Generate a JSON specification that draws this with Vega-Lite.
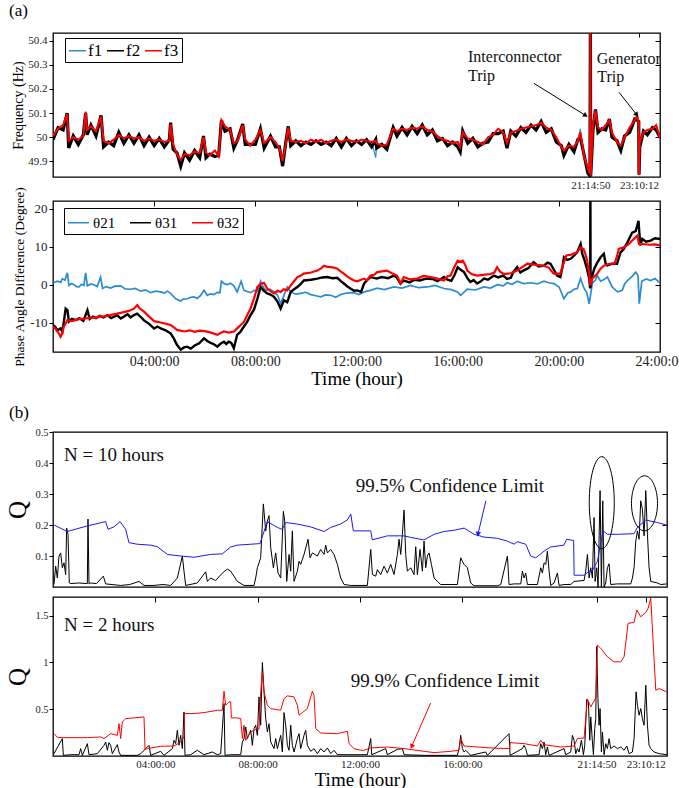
{
"$schema":"https://vega.github.io/schema/vega-lite/v6.json",
"background":"white",
"padding":{"left":5,"top":0,"right":0,"bottom":0},
"config":{
"font":"Liberation Serif",
"view":{"stroke":"#000","strokeWidth":1.3},
"axis":{"domain":false,"grid":false,"labelFont":"Liberation Serif","titleFont":"Liberation Serif","labelColor":"#222","titleColor":"#000","tickColor":"#000","titleFontWeight":"normal","labelFlush":false,"labelOverlap":false},
"legend":{"labelFont":"Liberation Serif"},
"title":{"font":"Liberation Serif","fontWeight":"normal","color":"#000"},
"text":{"font":"Liberation Serif"}
},
"datasets":{
"p1":[
{"t":0,"a":49.995,"b":49.99,"c":50.005},{"t":0.2,"a":50.03,"b":50.04,"c":50.035},{"t":0.4,"a":50.05,"b":50.03,"c":50.05},{"t":0.56,"a":50.095,"b":50.1,"c":50.095},{"t":0.62,"a":49.985,"b":49.955,"c":49.985},{"t":0.8,"a":50,"b":50.005,"c":50},{"t":1,"a":49.99,"b":49.97,"c":49.99},{"t":1.2,"a":50.005,"b":50.01,"c":50.005},{"t":1.29,"a":50.105,"b":50.1,"c":50.105},{"t":1.35,"a":50.03,"b":50.01,"c":50.03},{"t":1.5,"a":50.045,"b":50.05,"c":50.045},{"t":1.7,"a":50.025,"b":50.005,"c":50.025},{"t":1.9,"a":50.085,"b":50.09,"c":50.085},{"t":2,"a":49.985,"b":49.96,"c":49.985},{"t":2.2,"a":49.975,"b":49.98,"c":49.975},{"t":2.4,"a":49.99,"b":49.965,"c":49.99},{"t":2.6,"a":50.01,"b":50.02,"c":50.01},{"t":2.8,"a":49.995,"b":49.975,"c":49.995},{"t":3,"a":50.005,"b":50.01,"c":50.005},{"t":3.2,"a":49.995,"b":49.975,"c":49.995},{"t":3.4,"a":50,"b":50.01,"c":50},{"t":3.6,"a":49.985,"b":49.965,"c":49.985},{"t":3.8,"a":49.995,"b":50,"c":49.995},{"t":4,"a":49.985,"b":49.965,"c":49.985},{"t":4.2,"a":49.99,"b":49.995,"c":49.99},{"t":4.4,"a":49.98,"b":49.96,"c":49.98},{"t":4.6,"a":49.985,"b":49.99,"c":49.985},{"t":4.65,"a":50.055,"b":50.06,"c":50.055},{"t":4.75,"a":49.97,"b":49.95,"c":49.97},{"t":4.9,"a":49.93,"b":49.935,"c":49.93},{"t":5.05,"a":49.905,"b":49.88,"c":49.905},{"t":5.2,"a":49.93,"b":49.935,"c":49.93},{"t":5.4,"a":49.925,"b":49.905,"c":49.925},{"t":5.6,"a":49.94,"b":49.945,"c":49.94},{"t":5.8,"a":49.935,"b":49.915,"c":49.935},{"t":5.95,"a":50,"b":50.005,"c":50},{"t":6.05,"a":49.935,"b":49.915,"c":49.935},{"t":6.2,"a":49.925,"b":49.93,"c":49.925},{"t":6.4,"a":49.945,"b":49.92,"c":49.945},{"t":6.55,"a":49.92,"b":49.925,"c":49.92},{"t":6.66,"a":50.07,"b":50.07,"c":50.07},{"t":6.8,"a":50.045,"b":50.025,"c":50.045},{"t":7,"a":50.03,"b":50.035,"c":50.03},{"t":7.15,"a":49.975,"b":49.955,"c":49.975},{"t":7.3,"a":49.985,"b":49.99,"c":49.985},{"t":7.5,"a":50.05,"b":50.055,"c":50.05},{"t":7.6,"a":49.99,"b":49.97,"c":49.99},{"t":7.8,"a":49.965,"b":49.97,"c":49.965},{"t":8,"a":49.99,"b":49.97,"c":49.99},{"t":8.2,"a":50.03,"b":50.035,"c":50.03},{"t":8.35,"a":49.975,"b":49.955,"c":49.975},{"t":8.6,"a":50,"b":50.005,"c":50},{"t":8.8,"a":49.98,"b":49.96,"c":49.98},{"t":8.95,"a":49.955,"b":49.96,"c":49.955},{"t":9.08,"a":49.9,"b":49.88,"c":49.9},{"t":9.2,"a":49.97,"b":49.975,"c":49.97},{"t":9.3,"a":50.04,"b":50.045,"c":50.04},{"t":9.4,"a":49.985,"b":49.965,"c":49.985},{"t":9.6,"a":49.98,"b":49.985,"c":49.98},{"t":9.8,"a":49.985,"b":49.965,"c":49.985},{"t":10,"a":49.975,"b":49.98,"c":49.975},{"t":10.2,"a":49.99,"b":49.97,"c":49.99},{"t":10.4,"a":49.98,"b":49.985,"c":49.98},{"t":10.6,"a":49.99,"b":49.97,"c":49.99},{"t":10.8,"a":49.975,"b":49.98,"c":49.975},{"t":11,"a":49.985,"b":49.965,"c":49.985},{"t":11.2,"a":49.99,"b":49.995,"c":49.99},{"t":11.4,"a":49.98,"b":49.96,"c":49.98},{"t":11.6,"a":49.99,"b":49.995,"c":49.99},{"t":11.8,"a":49.985,"b":49.965,"c":49.985},{"t":12,"a":49.98,"b":49.985,"c":49.98},{"t":12.2,"a":49.99,"b":49.97,"c":49.99},{"t":12.4,"a":49.985,"b":49.99,"c":49.985},{"t":12.6,"a":49.98,"b":49.96,"c":49.98},{"t":12.76,"a":49.915,"b":49.99,"c":49.985},{"t":12.8,"a":49.975,"b":49.955,"c":49.975},{"t":13,"a":49.965,"b":49.97,"c":49.965},{"t":13.2,"a":49.97,"b":49.95,"c":49.97},{"t":13.45,"a":50.035,"b":50.04,"c":50.035},{"t":13.6,"a":50.025,"b":50.005,"c":50.025},{"t":13.8,"a":50.035,"b":50.04,"c":50.035},{"t":14,"a":50.03,"b":50.01,"c":50.03},{"t":14.2,"a":50.04,"b":50.045,"c":50.04},{"t":14.4,"a":50.035,"b":50.015,"c":50.035},{"t":14.6,"a":50.045,"b":50.05,"c":50.045},{"t":14.8,"a":50.03,"b":50.01,"c":50.03},{"t":15,"a":50.025,"b":50.03,"c":50.025},{"t":15.2,"a":50.005,"b":49.985,"c":50.005},{"t":15.4,"a":49.99,"b":49.995,"c":49.99},{"t":15.6,"a":49.985,"b":49.965,"c":49.985},{"t":15.8,"a":49.975,"b":49.98,"c":49.975},{"t":16,"a":49.98,"b":49.96,"c":49.98},{"t":16.1,"a":49.96,"b":49.94,"c":49.96},{"t":16.2,"a":50.02,"b":50.025,"c":50.02},{"t":16.4,"a":49.995,"b":49.975,"c":49.995},{"t":16.6,"a":49.99,"b":49.995,"c":49.99},{"t":16.8,"a":49.98,"b":49.96,"c":49.98},{"t":17,"a":49.97,"b":49.975,"c":49.97},{"t":17.2,"a":50,"b":49.98,"c":50},{"t":17.4,"a":50.01,"b":50.015,"c":50.01},{"t":17.6,"a":50.035,"b":50.015,"c":50.035},{"t":17.8,"a":50.02,"b":50.025,"c":50.02},{"t":17.95,"a":49.975,"b":49.955,"c":49.975},{"t":18.1,"a":50.02,"b":50.025,"c":50.02},{"t":18.3,"a":50.025,"b":50.005,"c":50.025},{"t":18.5,"a":50.035,"b":50.04,"c":50.035},{"t":18.7,"a":50.04,"b":50.02,"c":50.04},{"t":18.9,"a":50.045,"b":50.05,"c":50.045},{"t":19.1,"a":50.05,"b":50.03,"c":50.05},{"t":19.3,"a":50.06,"b":50.065,"c":50.06},{"t":19.5,"a":50.04,"b":50.02,"c":50.04},{"t":19.7,"a":50.03,"b":50.035,"c":50.03},{"t":19.9,"a":50,"b":49.98,"c":50},{"t":20.1,"a":49.96,"b":49.965,"c":49.96},{"t":20.2,"a":49.945,"b":49.925,"c":49.945},{"t":20.4,"a":49.965,"b":49.97,"c":49.965},{"t":20.6,"a":49.96,"b":49.94,"c":49.96},{"t":20.75,"a":49.985,"b":49.99,"c":49.985},{"t":20.85,"a":50.035,"b":50,"c":50.02},{"t":21,"a":49.92,"b":49.925,"c":49.92},{"t":21.15,"a":49.87,"b":49.85,"c":49.87},{"t":21.23,"a":49.85,"b":49.84,"c":49.85},{"t":21.247,"a":50.44,"b":50.44,"c":50.44},{"t":21.26,"a":49.84,"b":49.84,"c":49.84},{"t":21.35,"a":50.05,"b":50.03,"c":50.05},{"t":21.45,"a":50.11,"b":50.115,"c":50.11},{"t":21.55,"a":50.04,"b":50.02,"c":50.04},{"t":21.7,"a":50.03,"b":50.035,"c":50.03},{"t":21.85,"a":50.05,"b":50.03,"c":50.05},{"t":22,"a":50.07,"b":50.075,"c":50.07},{"t":22.1,"a":50.02,"b":50,"c":50.02},{"t":22.3,"a":49.98,"b":49.985,"c":49.98},{"t":22.45,"a":49.965,"b":49.945,"c":49.965},{"t":22.6,"a":50,"b":50.005,"c":50},{"t":22.8,"a":50.04,"b":50.02,"c":50.04},{"t":23,"a":50.07,"b":50.075,"c":50.07},{"t":23.1,"a":50.09,"b":50.07,"c":50.09},{"t":23.16,"a":50.06,"b":50.065,"c":50.06},{"t":23.17,"a":49.845,"b":49.845,"c":49.845},{"t":23.2,"a":49.98,"b":49.96,"c":49.98},{"t":23.35,"a":50.02,"b":50.025,"c":50.02},{"t":23.5,"a":50.03,"b":50.01,"c":50.03},{"t":23.7,"a":50.035,"b":50.04,"c":50.035},{"t":23.85,"a":50.05,"b":50.03,"c":50.05},{"t":24,"a":49.995,"b":50,"c":49.995}
],
"p2a":[
{"t":0.01,"v":0.5},{"t":0.17,"v":0.9},{"t":0.3,"v":0.6},{"t":0.37,"v":1.6},{"t":0.47,"v":1.2},{"t":0.57,"v":3.1},{"t":0.63,"v":-0.2},{"t":0.73,"v":0.3},{"t":0.83,"v":0},{"t":0.93,"v":-0.5},{"t":1.03,"v":-0.6},{"t":1.13,"v":0.1},{"t":1.22,"v":-0.2},{"t":1.29,"v":3.1},{"t":1.36,"v":-0.3},{"t":1.5,"v":0.2},{"t":1.62,"v":0},{"t":1.75,"v":-0.5},{"t":1.88,"v":2},{"t":1.96,"v":-1},{"t":2.1,"v":-0.5},{"t":2.28,"v":-0.9},{"t":2.45,"v":-0.4},{"t":2.68,"v":-0.3},{"t":2.85,"v":-1.1},{"t":3.07,"v":-1.2},{"t":3.25,"v":-1},{"t":3.47,"v":-1.7},{"t":3.65,"v":-1.4},{"t":3.86,"v":-2.1},{"t":4.05,"v":-1.7},{"t":4.26,"v":-1.9},{"t":4.4,"v":-2.2},{"t":4.52,"v":-1.7},{"t":4.65,"v":-2.3},{"t":4.85,"v":-3.7},{"t":5.05,"v":-4.3},{"t":5.15,"v":-3.8},{"t":5.31,"v":-3.7},{"t":5.45,"v":-3.3},{"t":5.58,"v":-3.2},{"t":5.7,"v":-3.6},{"t":5.84,"v":-2.8},{"t":5.97,"v":-1.5},{"t":6.1,"v":-2.8},{"t":6.23,"v":-2.4},{"t":6.36,"v":-2.6},{"t":6.5,"v":-2},{"t":6.6,"v":-2.1},{"t":6.66,"v":0.9},{"t":6.78,"v":0.2},{"t":6.89,"v":0},{"t":7.02,"v":0.4},{"t":7.15,"v":-0.3},{"t":7.28,"v":-1.9},{"t":7.44,"v":0.9},{"t":7.55,"v":-1.5},{"t":7.68,"v":-1.8},{"t":7.81,"v":-2.1},{"t":7.95,"v":-1.5},{"t":8.08,"v":-1.7},{"t":8.21,"v":0.9},{"t":8.3,"v":-0.5},{"t":8.41,"v":-1.5},{"t":8.58,"v":-1.2},{"t":8.74,"v":-1.9},{"t":8.88,"v":-2.8},{"t":9,"v":-5},{"t":9.13,"v":-2.8},{"t":9.26,"v":-0.6},{"t":9.4,"v":-1.9},{"t":9.6,"v":-2.5},{"t":9.79,"v":-2.3},{"t":10,"v":-2},{"t":10.19,"v":-2.6},{"t":10.4,"v":-2.9},{"t":10.58,"v":-3.2},{"t":10.78,"v":-2.7},{"t":10.98,"v":-2.8},{"t":11.18,"v":-3.3},{"t":11.37,"v":-2.6},{"t":11.6,"v":-2.2},{"t":11.9,"v":-2.1},{"t":12.1,"v":-2.6},{"t":12.3,"v":-1.9},{"t":12.55,"v":-1.5},{"t":12.82,"v":-0.9},{"t":13.1,"v":-1.3},{"t":13.48,"v":-0.6},{"t":13.8,"v":-0.9},{"t":14.14,"v":-0.2},{"t":14.45,"v":-0.8},{"t":14.8,"v":-0.6},{"t":15.1,"v":-0.2},{"t":15.46,"v":-1},{"t":15.75,"v":-1.3},{"t":15.99,"v":-1.9},{"t":16.12,"v":-2.8},{"t":16.38,"v":-1.2},{"t":16.7,"v":-1.4},{"t":17.04,"v":-0.6},{"t":17.3,"v":-0.9},{"t":17.57,"v":0},{"t":17.8,"v":-0.3},{"t":17.96,"v":0.5},{"t":18.15,"v":0.1},{"t":18.36,"v":0.9},{"t":18.6,"v":0.3},{"t":18.89,"v":0.5},{"t":19.15,"v":0.2},{"t":19.41,"v":0.9},{"t":19.6,"v":0.5},{"t":19.81,"v":0.3},{"t":20.01,"v":-0.6},{"t":20.2,"v":-3.7},{"t":20.35,"v":-2.2},{"t":20.47,"v":-1.9},{"t":20.6,"v":-1.2},{"t":20.73,"v":-1},{"t":20.86,"v":1.6},{"t":21,"v":-1},{"t":21.1,"v":-2},{"t":21.2,"v":-5},{"t":21.33,"v":0.5},{"t":21.45,"v":1.2},{"t":21.52,"v":2.4},{"t":21.65,"v":0.9},{"t":21.8,"v":1.4},{"t":21.92,"v":2},{"t":22.11,"v":-0.6},{"t":22.2,"v":-1.2},{"t":22.32,"v":-1.9},{"t":22.51,"v":-1.5},{"t":22.6,"v":0.2},{"t":22.71,"v":1.1},{"t":22.9,"v":2.2},{"t":23.04,"v":3.3},{"t":23.13,"v":2.4},{"t":23.18,"v":-5},{"t":23.28,"v":0.9},{"t":23.45,"v":1.5},{"t":23.63,"v":1.1},{"t":23.8,"v":1.6},{"t":24,"v":0.5}
],
"p2b":[
{"t":0.01,"v":-10.6},{"t":0.1,"v":-11.2},{"t":0.17,"v":-12},{"t":0.3,"v":-11.5},{"t":0.37,"v":-12.3},{"t":0.43,"v":-9.7},{"t":0.5,"v":-6.3},{"t":0.57,"v":-6.7},{"t":0.63,"v":-9.7},{"t":0.75,"v":-9},{"t":0.9,"v":-9.3},{"t":1.05,"v":-8.8},{"t":1.2,"v":-9.5},{"t":1.36,"v":-6.7},{"t":1.45,"v":-9},{"t":1.58,"v":-8.4},{"t":1.7,"v":-8.8},{"t":1.85,"v":-8.2},{"t":2,"v":-8.6},{"t":2.15,"v":-8},{"t":2.3,"v":-8.8},{"t":2.54,"v":-8},{"t":2.68,"v":-8.9},{"t":2.8,"v":-8.4},{"t":2.95,"v":-7.8},{"t":3.07,"v":-8.6},{"t":3.2,"v":-8},{"t":3.33,"v":-7.6},{"t":3.47,"v":-8.5},{"t":3.6,"v":-9.4},{"t":3.8,"v":-10.3},{"t":4,"v":-11.5},{"t":4.13,"v":-11},{"t":4.26,"v":-11.5},{"t":4.45,"v":-12},{"t":4.65,"v":-12.8},{"t":4.78,"v":-14.2},{"t":4.9,"v":-15.8},{"t":5.05,"v":-17.1},{"t":5.18,"v":-16.5},{"t":5.3,"v":-16.3},{"t":5.45,"v":-16.8},{"t":5.6,"v":-16},{"t":5.78,"v":-15.4},{"t":5.97,"v":-14.1},{"t":6.1,"v":-14.8},{"t":6.2,"v":-15.2},{"t":6.35,"v":-15.6},{"t":6.5,"v":-16.3},{"t":6.62,"v":-15.5},{"t":6.76,"v":-15},{"t":6.85,"v":-15.6},{"t":6.95,"v":-15},{"t":7.05,"v":-15.3},{"t":7.15,"v":-16.7},{"t":7.28,"v":-13.2},{"t":7.4,"v":-12.5},{"t":7.55,"v":-11},{"t":7.68,"v":-9.7},{"t":7.81,"v":-8},{"t":7.95,"v":-6.5},{"t":8.08,"v":-3.7},{"t":8.21,"v":-0.6},{"t":8.34,"v":-1.6},{"t":8.47,"v":-2.3},{"t":8.6,"v":-2.6},{"t":8.74,"v":-3.2},{"t":8.88,"v":-4.5},{"t":9,"v":-6.3},{"t":9.13,"v":-4.1},{"t":9.26,"v":-4.6},{"t":9.4,"v":-1.9},{"t":9.53,"v":-1.2},{"t":9.66,"v":-0.6},{"t":9.8,"v":0.2},{"t":9.92,"v":1.1},{"t":10.2,"v":1.3},{"t":10.45,"v":1.6},{"t":10.65,"v":1.9},{"t":10.84,"v":2},{"t":11.05,"v":1.7},{"t":11.24,"v":1.8},{"t":11.37,"v":1},{"t":11.5,"v":0.3},{"t":11.63,"v":-0.4},{"t":11.76,"v":-1},{"t":11.9,"v":-1.6},{"t":12.03,"v":-1.5},{"t":12.18,"v":-1.9},{"t":12.3,"v":0.3},{"t":12.42,"v":1.2},{"t":12.55,"v":2},{"t":12.8,"v":1.6},{"t":13,"v":2},{"t":13.25,"v":1.7},{"t":13.48,"v":2.4},{"t":13.6,"v":1.8},{"t":13.74,"v":0.3},{"t":13.87,"v":1.1},{"t":14.1,"v":0.6},{"t":14.3,"v":1.3},{"t":14.5,"v":1.1},{"t":14.75,"v":1.6},{"t":15,"v":1.5},{"t":15.2,"v":0.9},{"t":15.46,"v":2},{"t":15.6,"v":1.3},{"t":15.75,"v":1},{"t":15.88,"v":2.6},{"t":16,"v":4.6},{"t":16.12,"v":3.9},{"t":16.25,"v":3.3},{"t":16.38,"v":1.8},{"t":16.5,"v":0.7},{"t":16.63,"v":1.2},{"t":16.77,"v":0.3},{"t":16.9,"v":0.8},{"t":17.04,"v":1.6},{"t":17.2,"v":1.3},{"t":17.43,"v":2.4},{"t":17.6,"v":1.9},{"t":17.8,"v":2.4},{"t":17.95,"v":1.5},{"t":18.1,"v":1.8},{"t":18.2,"v":3.3},{"t":18.35,"v":4.6},{"t":18.48,"v":3.2},{"t":18.6,"v":3.7},{"t":18.8,"v":4.4},{"t":19,"v":5.9},{"t":19.2,"v":4.8},{"t":19.41,"v":5},{"t":19.55,"v":5.8},{"t":19.67,"v":5.5},{"t":19.8,"v":4},{"t":19.93,"v":2.4},{"t":20.06,"v":2},{"t":20.14,"v":4.5},{"t":20.2,"v":7.2},{"t":20.33,"v":6.5},{"t":20.47,"v":6.8},{"t":20.6,"v":7.6},{"t":20.72,"v":8.5},{"t":20.86,"v":10.7},{"t":20.93,"v":8},{"t":21,"v":6.8},{"t":21.1,"v":4.5},{"t":21.2,"v":1.6},{"t":21.24,"v":-1},{"t":21.247,"v":30},{"t":21.255,"v":-0.5},{"t":21.3,"v":1.8},{"t":21.4,"v":4.2},{"t":21.52,"v":5.8},{"t":21.65,"v":7.2},{"t":21.78,"v":8.1},{"t":21.85,"v":5.6},{"t":21.92,"v":5},{"t":22.1,"v":5.5},{"t":22.3,"v":5.5},{"t":22.44,"v":8.5},{"t":22.57,"v":9.4},{"t":22.7,"v":11},{"t":22.9,"v":13.7},{"t":23.04,"v":14.1},{"t":23.15,"v":16.8},{"t":23.22,"v":10.3},{"t":23.3,"v":12},{"t":23.45,"v":11.3},{"t":23.63,"v":11.6},{"t":23.8,"v":12.2},{"t":24,"v":12}
],
"p2c":[
{"t":0.01,"v":-11},{"t":0.1,"v":-11.6},{"t":0.17,"v":-12.3},{"t":0.24,"v":-12.9},{"t":0.3,"v":-13.7},{"t":0.37,"v":-12.8},{"t":0.43,"v":-11},{"t":0.5,"v":-10.2},{"t":0.57,"v":-9.3},{"t":0.75,"v":-9.6},{"t":0.9,"v":-9.3},{"t":1.1,"v":-9},{"t":1.3,"v":-8.9},{"t":1.5,"v":-8.6},{"t":1.7,"v":-8.7},{"t":1.85,"v":-8.3},{"t":1.99,"v":-8.4},{"t":2.25,"v":-8},{"t":2.54,"v":-7.6},{"t":2.8,"v":-7.2},{"t":3,"v":-6.9},{"t":3.2,"v":-6.3},{"t":3.33,"v":-5.4},{"t":3.45,"v":-6.4},{"t":3.6,"v":-7.1},{"t":3.8,"v":-8.4},{"t":4,"v":-9.6},{"t":4.3,"v":-10},{"t":4.65,"v":-10.6},{"t":4.78,"v":-11.2},{"t":4.9,"v":-11.9},{"t":5.2,"v":-12.3},{"t":5.4,"v":-12},{"t":5.6,"v":-12.4},{"t":5.8,"v":-12.1},{"t":6,"v":-12.2},{"t":6.25,"v":-12.6},{"t":6.5,"v":-13.2},{"t":6.62,"v":-12.7},{"t":6.76,"v":-12.3},{"t":6.95,"v":-12.6},{"t":7.15,"v":-12.3},{"t":7.28,"v":-11.5},{"t":7.42,"v":-10.6},{"t":7.55,"v":-9.8},{"t":7.68,"v":-8},{"t":7.81,"v":-6.3},{"t":7.95,"v":-3.6},{"t":8.08,"v":-0.6},{"t":8.21,"v":0.2},{"t":8.34,"v":0.5},{"t":8.47,"v":-1},{"t":8.6,"v":-1.7},{"t":8.74,"v":-2.3},{"t":8.88,"v":-1.6},{"t":9,"v":-1.9},{"t":9.13,"v":-1.2},{"t":9.26,"v":-1.5},{"t":9.4,"v":-0.2},{"t":9.53,"v":0.9},{"t":9.66,"v":2},{"t":9.8,"v":2.4},{"t":9.92,"v":2.9},{"t":10.2,"v":3.2},{"t":10.45,"v":3.7},{"t":10.6,"v":4.3},{"t":10.71,"v":5},{"t":10.85,"v":4.7},{"t":10.97,"v":4.6},{"t":11.1,"v":4.5},{"t":11.24,"v":4.2},{"t":11.37,"v":3.5},{"t":11.5,"v":2.9},{"t":11.63,"v":2.2},{"t":11.76,"v":1.6},{"t":11.9,"v":1.1},{"t":12.03,"v":0.9},{"t":12.18,"v":1.3},{"t":12.3,"v":1.6},{"t":12.42,"v":1.2},{"t":12.55,"v":2.4},{"t":12.7,"v":2.6},{"t":12.82,"v":3.3},{"t":13,"v":3.5},{"t":13.2,"v":3.7},{"t":13.4,"v":3},{"t":13.6,"v":2.4},{"t":13.74,"v":0.3},{"t":13.87,"v":2},{"t":14.1,"v":1.4},{"t":14.4,"v":1.6},{"t":14.65,"v":2.3},{"t":14.93,"v":2},{"t":15.2,"v":1.6},{"t":15.46,"v":1.1},{"t":15.6,"v":2.2},{"t":15.72,"v":2.4},{"t":15.86,"v":4.5},{"t":16,"v":6.3},{"t":16.1,"v":6},{"t":16.2,"v":6.3},{"t":16.3,"v":5.2},{"t":16.38,"v":3.7},{"t":16.55,"v":2.8},{"t":16.77,"v":2.4},{"t":17,"v":2.6},{"t":17.3,"v":2.8},{"t":17.45,"v":3.2},{"t":17.56,"v":4.6},{"t":17.68,"v":3.4},{"t":17.82,"v":2.8},{"t":18.1,"v":3},{"t":18.35,"v":3.7},{"t":18.55,"v":4.6},{"t":18.75,"v":5.5},{"t":19.1,"v":5.2},{"t":19.4,"v":5},{"t":19.6,"v":4.5},{"t":19.8,"v":2.9},{"t":20.06,"v":2.9},{"t":20.18,"v":5.5},{"t":20.3,"v":7.7},{"t":20.5,"v":7.9},{"t":20.72,"v":8.5},{"t":20.86,"v":9.8},{"t":20.98,"v":9.4},{"t":21.05,"v":8},{"t":21.12,"v":6.3},{"t":21.2,"v":3},{"t":21.25,"v":-0.2},{"t":21.32,"v":1.6},{"t":21.42,"v":2.2},{"t":21.52,"v":2.9},{"t":21.65,"v":4.2},{"t":21.78,"v":5},{"t":22,"v":5.5},{"t":22.2,"v":5.5},{"t":22.3,"v":7.5},{"t":22.37,"v":9.4},{"t":22.57,"v":9.8},{"t":22.75,"v":10.6},{"t":22.9,"v":11.6},{"t":23.1,"v":12.9},{"t":23.17,"v":10.7},{"t":23.3,"v":10.7},{"t":23.6,"v":10.5},{"t":23.8,"v":10.6},{"t":24,"v":10.3}
],
"p3q":[
{"t":0.039,"v":0.008},{"t":0.104,"v":0.067},{"t":0.169,"v":0.029},{"t":0.235,"v":0.1},{"t":0.3,"v":0.11},{"t":0.365,"v":0.062},{"t":0.43,"v":0.078},{"t":0.495,"v":0.04},{"t":0.534,"v":0.19},{"t":0.586,"v":0.17},{"t":0.638,"v":0.013},{"t":0.69,"v":0.011},{"t":1,"v":0.013},{"t":1.342,"v":0.011},{"t":1.368,"v":0.219},{"t":1.407,"v":0.01},{"t":1.472,"v":0.013},{"t":1.7,"v":0.011},{"t":1.968,"v":0.035},{"t":2.059,"v":0.01},{"t":2.645,"v":0.005},{"t":3,"v":0.008},{"t":3.362,"v":0.018},{"t":3.557,"v":0.005},{"t":3.948,"v":0.005},{"t":4.3,"v":0.008},{"t":4.6,"v":0.005},{"t":4.86,"v":0.029},{"t":5.056,"v":0.1},{"t":5.121,"v":0.051},{"t":5.186,"v":0.005},{"t":5.642,"v":0.013},{"t":5.968,"v":0.049},{"t":6.033,"v":0.018},{"t":6.163,"v":0.029},{"t":6.359,"v":0.021},{"t":6.62,"v":0.045},{"t":6.815,"v":0.058},{"t":6.946,"v":0.051},{"t":7.206,"v":0.018},{"t":7.467,"v":0.005},{"t":7.858,"v":0.005},{"t":7.923,"v":0.029},{"t":7.988,"v":0.062},{"t":8.118,"v":0.094},{"t":8.223,"v":0.268},{"t":8.314,"v":0.181},{"t":8.379,"v":0.213},{"t":8.444,"v":0.23},{"t":8.51,"v":0.127},{"t":8.614,"v":0.062},{"t":8.705,"v":0.11},{"t":8.796,"v":0.045},{"t":8.9,"v":0.029},{"t":9.004,"v":0.244},{"t":9.057,"v":0.213},{"t":9.135,"v":0.018},{"t":9.226,"v":0.105},{"t":9.291,"v":0.051},{"t":9.356,"v":0.181},{"t":9.421,"v":0.018},{"t":9.552,"v":0.051},{"t":9.617,"v":0.083},{"t":9.682,"v":0.073},{"t":9.812,"v":0.105},{"t":9.969,"v":0.154},{"t":10.047,"v":0.094},{"t":10.138,"v":0.11},{"t":10.334,"v":0.1},{"t":10.464,"v":0.121},{"t":10.594,"v":0.105},{"t":10.66,"v":0.135},{"t":10.725,"v":0.11},{"t":10.855,"v":0.121},{"t":10.985,"v":0.105},{"t":11.115,"v":0.073},{"t":11.18,"v":0.051},{"t":11.246,"v":0.029},{"t":11.376,"v":0.008},{"t":11.637,"v":0.005},{"t":12.288,"v":0.005},{"t":12.419,"v":0.121},{"t":12.484,"v":0.04},{"t":12.614,"v":0.035},{"t":12.68,"v":0.056},{"t":12.81,"v":0.04},{"t":12.94,"v":0.067},{"t":13.07,"v":0.045},{"t":13.2,"v":0.073},{"t":13.33,"v":0.04},{"t":13.461,"v":0.105},{"t":13.526,"v":0.154},{"t":13.591,"v":0.105},{"t":13.656,"v":0.17},{"t":13.722,"v":0.248},{"t":13.787,"v":0.105},{"t":13.852,"v":0.051},{"t":13.982,"v":0.062},{"t":14.113,"v":0.04},{"t":14.178,"v":0.13},{"t":14.243,"v":0.04},{"t":14.347,"v":0.121},{"t":14.439,"v":0.051},{"t":14.504,"v":0.148},{"t":14.569,"v":0.062},{"t":14.634,"v":0.1},{"t":14.699,"v":0.11},{"t":14.791,"v":0.073},{"t":14.895,"v":0.029},{"t":15.025,"v":0.018},{"t":15.155,"v":0.008},{"t":15.807,"v":0.008},{"t":15.937,"v":0.094},{"t":16.002,"v":0.083},{"t":16.068,"v":0.073},{"t":16.198,"v":0.062},{"t":16.328,"v":0.013},{"t":16.459,"v":0.004},{"t":17.371,"v":0.004},{"t":17.501,"v":0.008},{"t":17.762,"v":0.1},{"t":17.827,"v":0.008},{"t":18.022,"v":0.01},{"t":18.283,"v":0.01},{"t":18.348,"v":0.051},{"t":18.413,"v":0.029},{"t":18.478,"v":0.045},{"t":18.544,"v":0.008},{"t":18.935,"v":0.008},{"t":19.065,"v":0.062},{"t":19.13,"v":0.045},{"t":19.195,"v":0.078},{"t":19.26,"v":0.073},{"t":19.325,"v":0.116},{"t":19.391,"v":0.051},{"t":19.456,"v":0.005},{"t":19.586,"v":0.013},{"t":19.716,"v":0.045},{"t":19.782,"v":0.005},{"t":19.977,"v":0.008},{"t":20.237,"v":0.008},{"t":20.368,"v":0.018},{"t":20.759,"v":0.021},{"t":20.824,"v":0.051},{"t":20.889,"v":0.105},{"t":20.954,"v":0.029},{"t":21.02,"v":0.062},{"t":21.085,"v":0.029},{"t":21.15,"v":0.224},{"t":21.189,"v":0.018},{"t":21.254,"v":0.062},{"t":21.306,"v":0},{"t":21.384,"v":0.311},{"t":21.436,"v":0},{"t":21.488,"v":0.278},{"t":21.541,"v":0},{"t":21.606,"v":0.013},{"t":21.671,"v":0.062},{"t":21.736,"v":0.075},{"t":21.801,"v":0.008},{"t":22.062,"v":0.01},{"t":22.583,"v":0.01},{"t":22.648,"v":0.029},{"t":22.713,"v":0.062},{"t":22.778,"v":0.148},{"t":22.844,"v":0.181},{"t":22.909,"v":0.154},{"t":22.974,"v":0.278},{"t":23.039,"v":0.251},{"t":23.104,"v":0.165},{"t":23.17,"v":0.311},{"t":23.235,"v":0.17},{"t":23.3,"v":0.062},{"t":23.365,"v":0.018},{"t":23.626,"v":0.013},{"t":23.756,"v":0.008},{"t":23.991,"v":0.01}
],
"p3l":[
{"t":0.04,"v":0.2},{"t":0.56,"v":0.179},{"t":1.34,"v":0.197},{"t":2.06,"v":0.211},{"t":2.15,"v":0.186},{"t":2.38,"v":0.194},{"t":2.62,"v":0.211},{"t":2.84,"v":0.186},{"t":2.97,"v":0.143},{"t":3.3,"v":0.138},{"t":3.82,"v":0.135},{"t":4.08,"v":0.13},{"t":4.47,"v":0.105},{"t":4.99,"v":0.1},{"t":5.51,"v":0.096},{"t":6.16,"v":0.105},{"t":6.62,"v":0.107},{"t":6.94,"v":0.129},{"t":7.2,"v":0.135},{"t":7.73,"v":0.138},{"t":8.09,"v":0.14},{"t":8.38,"v":0.211},{"t":8.77,"v":0.192},{"t":8.96,"v":0.186},{"t":9.1,"v":0.208},{"t":9.55,"v":0.203},{"t":10.07,"v":0.194},{"t":10.6,"v":0.179},{"t":10.85,"v":0.192},{"t":11.24,"v":0.203},{"t":11.5,"v":0.216},{"t":11.64,"v":0.235},{"t":11.74,"v":0.181},{"t":12.42,"v":0.181},{"t":12.48,"v":0.152},{"t":13.07,"v":0.165},{"t":13.72,"v":0.165},{"t":13.98,"v":0.16},{"t":14.5,"v":0.152},{"t":14.9,"v":0.17},{"t":15.28,"v":0.179},{"t":15.68,"v":0.183},{"t":16.07,"v":0.19},{"t":16.46,"v":0.17},{"t":16.85,"v":0.161},{"t":17.37,"v":0.157},{"t":17.76,"v":0.148},{"t":18.02,"v":0.138},{"t":18.15,"v":0.146},{"t":18.48,"v":0.138},{"t":18.67,"v":0.1},{"t":18.87,"v":0.094},{"t":19.2,"v":0.116},{"t":19.45,"v":0.129},{"t":19.97,"v":0.135},{"t":20.08,"v":0.154},{"t":20.35,"v":0.15},{"t":20.37,"v":0.038},{"t":20.76,"v":0.038},{"t":20.95,"v":0.051},{"t":21.08,"v":0.053},{"t":21.28,"v":0.083},{"t":21.41,"v":0.143},{"t":21.51,"v":0.181},{"t":21.67,"v":0.17},{"t":22.06,"v":0.17},{"t":22.71,"v":0.172},{"t":22.84,"v":0.192},{"t":23.17,"v":0.216},{"t":23.62,"v":0.208},{"t":23.98,"v":0.2}
],
"p4q":[
{"t":0.039,"v":0.025},{"t":0.365,"v":0.186},{"t":0.404,"v":0.007},{"t":0.69,"v":0.014},{"t":1.016,"v":0.014},{"t":1.082,"v":0.079},{"t":1.147,"v":0.007},{"t":1.342,"v":0.132},{"t":1.407,"v":0.014},{"t":1.733,"v":0.025},{"t":1.994,"v":0.114},{"t":2.059,"v":0.15},{"t":2.124,"v":0.061},{"t":2.189,"v":0.143},{"t":2.254,"v":0.114},{"t":2.319,"v":0.025},{"t":2.515,"v":0.121},{"t":2.58,"v":0.043},{"t":2.645,"v":0.007},{"t":3.297,"v":0.007},{"t":3.427,"v":0.025},{"t":3.753,"v":0.114},{"t":3.818,"v":0.007},{"t":4.209,"v":0.05},{"t":4.339,"v":0.007},{"t":4.665,"v":0.079},{"t":4.73,"v":0.168},{"t":4.795,"v":0.132},{"t":4.86,"v":0.275},{"t":4.926,"v":0.114},{"t":4.991,"v":0.221},{"t":5.056,"v":0.079},{"t":5.121,"v":0.471},{"t":5.16,"v":0.007},{"t":5.382,"v":0.014},{"t":5.642,"v":0.061},{"t":5.9,"v":0.014},{"t":6.229,"v":0.043},{"t":6.424,"v":0.014},{"t":6.555,"v":0.025},{"t":6.685,"v":0.561},{"t":6.724,"v":0.007},{"t":6.946,"v":0.014},{"t":7.337,"v":0.014},{"t":7.402,"v":0.15},{"t":7.467,"v":0.186},{"t":7.532,"v":0.311},{"t":7.597,"v":0.186},{"t":7.728,"v":0.275},{"t":7.793,"v":0.114},{"t":7.858,"v":0.293},{"t":7.923,"v":0.329},{"t":7.988,"v":0.221},{"t":8.053,"v":0.632},{"t":8.118,"v":0.329},{"t":8.184,"v":1},{"t":8.249,"v":0.686},{"t":8.314,"v":0.4},{"t":8.379,"v":0.257},{"t":8.444,"v":0.346},{"t":8.51,"v":0.15},{"t":8.64,"v":0.079},{"t":8.705,"v":0.186},{"t":8.77,"v":0.079},{"t":8.9,"v":0.221},{"t":8.965,"v":0.043},{"t":9.03,"v":0.464},{"t":9.096,"v":0.329},{"t":9.161,"v":0.114},{"t":9.226,"v":0.061},{"t":9.291,"v":0.329},{"t":9.356,"v":0.114},{"t":9.421,"v":0.043},{"t":9.552,"v":0.186},{"t":9.617,"v":0.239},{"t":9.682,"v":0.079},{"t":9.812,"v":0.221},{"t":9.878,"v":0.275},{"t":9.943,"v":0.114},{"t":10.074,"v":0.05},{"t":10.203,"v":0.079},{"t":10.334,"v":0.025},{"t":10.464,"v":0.079},{"t":10.594,"v":0.043},{"t":10.725,"v":0.086},{"t":10.855,"v":0.025},{"t":10.985,"v":0.061},{"t":11.115,"v":0.014},{"t":11.5,"v":0.014},{"t":12.288,"v":0.014},{"t":12.419,"v":0.186},{"t":12.458,"v":0.014},{"t":13.005,"v":0.079},{"t":13.07,"v":0.014},{"t":13.461,"v":0.071},{"t":13.656,"v":0.079},{"t":13.722,"v":0.014},{"t":14.504,"v":0.007},{"t":15.807,"v":0.007},{"t":15.872,"v":0.079},{"t":15.937,"v":0.221},{"t":16.002,"v":0.079},{"t":16.068,"v":0.043},{"t":16.133,"v":0.061},{"t":16.328,"v":0.007},{"t":16.915,"v":0.043},{"t":16.98,"v":0.007},{"t":17.827,"v":0.239},{"t":17.866,"v":0.007},{"t":18.348,"v":0.079},{"t":18.413,"v":0.114},{"t":18.478,"v":0.079},{"t":18.544,"v":0.007},{"t":19,"v":0.014},{"t":19.065,"v":0.132},{"t":19.13,"v":0.079},{"t":19.195,"v":0.15},{"t":19.26,"v":0.014},{"t":19.325,"v":0.096},{"t":19.391,"v":0.007},{"t":19.977,"v":0.079},{"t":20.042,"v":0.014},{"t":20.237,"v":0.043},{"t":20.303,"v":0.221},{"t":20.368,"v":0.168},{"t":20.433,"v":0.025},{"t":20.498,"v":0.079},{"t":20.563,"v":0.043},{"t":20.655,"v":0.168},{"t":20.733,"v":0.014},{"t":20.785,"v":0.114},{"t":20.863,"v":0.607},{"t":20.928,"v":0.579},{"t":20.98,"v":0.168},{"t":21.02,"v":0.418},{"t":21.085,"v":0.15},{"t":21.124,"v":0.014},{"t":21.176,"v":0.293},{"t":21.215,"v":0.4},{"t":21.25,"v":1.17},{"t":21.3,"v":0.614},{"t":21.345,"v":0.329},{"t":21.384,"v":0.507},{"t":21.436,"v":0.043},{"t":21.475,"v":0.257},{"t":21.541,"v":0.014},{"t":21.606,"v":0.132},{"t":21.671,"v":0.079},{"t":21.736,"v":0.186},{"t":21.801,"v":0.079},{"t":21.932,"v":0.107},{"t":22.062,"v":0.079},{"t":22.193,"v":0.096},{"t":22.323,"v":0.061},{"t":22.427,"v":0.107},{"t":22.518,"v":0.025},{"t":22.648,"v":0.043},{"t":22.713,"v":0.186},{"t":22.792,"v":0.686},{"t":22.844,"v":0.543},{"t":22.909,"v":0.436},{"t":22.974,"v":0.507},{"t":23.039,"v":0.4},{"t":23.104,"v":0.329},{"t":23.17,"v":0.757},{"t":23.235,"v":0.329},{"t":23.3,"v":0.114},{"t":23.365,"v":0.079},{"t":23.495,"v":0.043},{"t":23.691,"v":0.025},{"t":23.991,"v":0.014}
],
"p4l":[
{"t":0.039,"v":0.24},{"t":0.169,"v":0.2},{"t":0.365,"v":0.196},{"t":1.342,"v":0.196},{"t":1.864,"v":0.204},{"t":1.994,"v":0.186},{"t":2.254,"v":0.239},{"t":2.515,"v":0.221},{"t":2.58,"v":0.346},{"t":2.645,"v":0.186},{"t":2.71,"v":0.364},{"t":2.776,"v":0.382},{"t":2.841,"v":0.4},{"t":3.167,"v":0.407},{"t":3.557,"v":0.418},{"t":3.597,"v":0.071},{"t":3.688,"v":0.079},{"t":4.209,"v":0.104},{"t":4.73,"v":0.107},{"t":4.991,"v":0.15},{"t":5.121,"v":0.204},{"t":5.147,"v":0.454},{"t":5.512,"v":0.454},{"t":5.903,"v":0.464},{"t":6.424,"v":0.489},{"t":6.62,"v":0.489},{"t":6.685,"v":0.693},{"t":6.75,"v":0.543},{"t":6.88,"v":0.579},{"t":6.946,"v":0.579},{"t":6.972,"v":0.407},{"t":7.206,"v":0.407},{"t":7.337,"v":0.4},{"t":7.402,"v":0.186},{"t":7.467,"v":0.329},{"t":7.532,"v":0.168},{"t":7.728,"v":0.257},{"t":7.988,"v":0.293},{"t":8.053,"v":0.286},{"t":8.118,"v":0.686},{"t":8.184,"v":0.9},{"t":8.249,"v":0.686},{"t":8.379,"v":0.543},{"t":8.51,"v":0.507},{"t":8.9,"v":0.489},{"t":9.03,"v":0.614},{"t":9.161,"v":0.643},{"t":9.421,"v":0.632},{"t":9.552,"v":0.543},{"t":9.617,"v":0.436},{"t":9.748,"v":0.464},{"t":9.943,"v":0.507},{"t":10.138,"v":0.693},{"t":10.203,"v":0.65},{"t":10.269,"v":0.293},{"t":10.464,"v":0.246},{"t":11.115,"v":0.239},{"t":11.506,"v":0.264},{"t":11.572,"v":0.132},{"t":11.767,"v":0.079},{"t":12.028,"v":0.061},{"t":12.158,"v":0.061},{"t":12.419,"v":0.086},{"t":13.07,"v":0.096},{"t":13.722,"v":0.079},{"t":14.504,"v":0.05},{"t":14.895,"v":0.036},{"t":15.546,"v":0.05},{"t":15.872,"v":0.061},{"t":15.937,"v":0.186},{"t":16.068,"v":0.107},{"t":17.11,"v":0.086},{"t":17.853,"v":0.079},{"t":17.866,"v":0.143},{"t":18.413,"v":0.132},{"t":18.935,"v":0.107},{"t":19.065,"v":0.168},{"t":19.195,"v":0.121},{"t":19.847,"v":0.096},{"t":20.368,"v":0.107},{"t":20.498,"v":0.186},{"t":20.759,"v":0.193},{"t":20.889,"v":0.607},{"t":21.02,"v":0.525},{"t":21.215,"v":0.621},{"t":21.28,"v":1.186},{"t":21.41,"v":1.15},{"t":21.671,"v":1.061},{"t":21.932,"v":1.007},{"t":22.193,"v":1.007},{"t":22.323,"v":1.061},{"t":22.479,"v":1.418},{"t":22.713,"v":1.429},{"t":22.818,"v":1.561},{"t":22.974,"v":1.489},{"t":23.17,"v":1.536},{"t":23.261,"v":1.579},{"t":23.365,"v":1.686},{"t":23.561,"v":0.704},{"t":23.691,"v":0.721},{"t":23.991,"v":0.686}
],
"a1":[{"t":16.41,"v":50.331,"s":"Interconnector"},{"t":16.41,"v":50.255,"s":"Trip"},{"t":21.5,"v":50.326,"s":"Generator"},{"t":21.52,"v":50.248,"s":"Trip"}],
"r1":[{"t":19.02,"v":50.223,"t2":21.06,"v2":50.09,"k":"i"},{"t":22.38,"v":50.186,"t2":23.08,"v2":50.093,"k":"g"}],
"a3":[{"t":0.43,"v":0.427,"s":"N = 10 hours"},{"t":11.83,"v":0.327,"s":"99.5% Confidence Limit"}],
"r3":[{"t":16.92,"v":0.278,"t2":16.61,"v2":0.17}],
"e3":[{"t":21.45,"v":0.272,"k":1},{"t":23.12,"v":0.27,"k":2}],
"a4":[{"t":0.43,"v":1.396,"s":"N = 2 hours"},{"t":11.64,"v":0.804,"s":"99.9% Confidence Limit"}],
"r4":[{"t":14.76,"v":0.566,"t2":14.02,"v2":0.101}],
"sp":[{"k":1}]
},
"vconcat":[
{
"width":607,"height":144,
"title":{"text":"(a)","frame":"group","anchor":"start","dx":-44,"offset":13,"fontSize":17},
"layer":[
{"data":{"name":"p1"},"mark":{"type":"line","clip":true,"strokeWidth":1.2},
"encoding":{
"x":{"field":"t","type":"quantitative","scale":{"domain":[0,24],"nice":false,"zero":false},"axis":{"values":[21.2472,23.17],"labelExpr":"datum.value < 22 ? '21:14:50' : '23:10:12'","ticks":false,"tickSize":0,"labelFontSize":11,"labelPadding":2,"title":null}},
"y":{"field":"a","type":"quantitative","scale":{"domain":[49.835,50.432],"nice":false,"zero":false},"axis":{"values":[49.9,50,50.1,50.2,50.3,50.4],"format":"~g","labelFontSize":11,"tickSize":4,"labelPadding":2,"title":"Frequency (Hz)","titleFontSize":14,"titlePadding":2}},
"color":{"datum":"f1","type":"nominal","scale":{"domain":["f1","f2","f3"],"range":["#2a8cd2","#000000","#ff0000"]},"legend":{"orient":"none","legendX":12,"legendY":5,"direction":"horizontal","title":null,"symbolType":"stroke","symbolSize":289,"symbolStrokeWidth":1.5,"labelFontSize":17,"labelOffset":1,"columnPadding":1,"padding":3,"strokeColor":"#000","fillColor":"#fff","labelColor":"#000"}}
}},
{"data":{"name":"p1"},"mark":{"type":"line","clip":true,"strokeWidth":3.2},
"encoding":{
"x":{"field":"t","type":"quantitative","scale":{"domain":[0,24],"nice":false,"zero":false},"axis":null},
"y":{"field":"b","type":"quantitative","scale":{"domain":[49.835,50.432],"nice":false,"zero":false},"axis":null},
"color":{"datum":"f2","type":"nominal"}}},
{"data":{"name":"p1"},"mark":{"type":"line","clip":true,"strokeWidth":2},
"encoding":{
"x":{"field":"t","type":"quantitative","scale":{"domain":[0,24],"nice":false,"zero":false},"axis":{"orient":"top","values":[21.2472,23.17],"labels":false,"tickSize":-4,"title":null}},
"y":{"field":"c","type":"quantitative","scale":{"domain":[49.835,50.432],"nice":false,"zero":false},"axis":{"orient":"right","values":[49.9,50,50.1,50.2,50.3,50.4],"labels":false,"tickSize":-5,"title":null}},
"color":{"datum":"f3","type":"nominal"}}},
{"data":{"name":"a1"},"mark":{"type":"text","align":"left","baseline":"middle","fontSize":16,"clip":true,"color":"#111"},
"encoding":{
"x":{"field":"t","type":"quantitative","scale":{"domain":[0,24],"nice":false,"zero":false},"axis":null},
"y":{"field":"v","type":"quantitative","scale":{"domain":[49.835,50.432],"nice":false,"zero":false},"axis":null},
"text":{"field":"s","type":"nominal"}}},
{"data":{"name":"r1"},"mark":{"type":"rule","strokeWidth":1,"color":"#000"},
"encoding":{
"x":{"field":"t","type":"quantitative","scale":{"domain":[0,24],"nice":false,"zero":false},"axis":null},
"y":{"field":"v","type":"quantitative","scale":{"domain":[49.835,50.432],"nice":false,"zero":false},"axis":null},
"x2":{"field":"t2"},"y2":{"field":"v2"}}},
{"data":{"name":"r1"},"transform":[{"filter":"datum.k == 'i'"}],"mark":{"type":"point","shape":"triangle-right","filled":true,"color":"#000","opacity":1,"size":30,"angle":32},
"encoding":{
"x":{"field":"t2","type":"quantitative","scale":{"domain":[0,24],"nice":false,"zero":false},"axis":null},
"y":{"field":"v2","type":"quantitative","scale":{"domain":[49.835,50.432],"nice":false,"zero":false},"axis":null}}},
{"data":{"name":"r1"},"transform":[{"filter":"datum.k == 'g'"}],"mark":{"type":"point","shape":"triangle-right","filled":true,"color":"#000","opacity":1,"size":30,"angle":52},
"encoding":{
"x":{"field":"t2","type":"quantitative","scale":{"domain":[0,24],"nice":false,"zero":false},"axis":null},
"y":{"field":"v2","type":"quantitative","scale":{"domain":[49.835,50.432],"nice":false,"zero":false},"axis":null}}}
],
"resolve":{"axis":{"x":"independent","y":"independent"}}
},
{"width":607,"height":4,"data":{"name":"sp"},"mark":{"type":"text"},"encoding":{"text":{"value":""}},"view":{"stroke":null}},
{
"width":607,"height":151,
"layer":[
{"data":{"name":"p2a"},"mark":{"type":"line","clip":true,"strokeWidth":1.7},
"encoding":{
"x":{"field":"t","type":"quantitative","scale":{"domain":[0,24],"nice":false,"zero":false},"axis":{"values":[4,8,12,16,20,24],"labelExpr":"(datum.value < 10 ? '0' : '') + datum.value + ':00:00'","ticks":false,"tickSize":0,"labelFontSize":14,"labelPadding":2,"title":"Time (hour)","titleFontSize":19,"titlePadding":1}},
"y":{"field":"v","type":"quantitative","scale":{"domain":[-17.7,22],"nice":false,"zero":false},"axis":{"values":[-10,0,10,20],"labelExpr":"'' + datum.value","labelFontSize":13,"tickSize":4,"labelPadding":2,"title":"Phase Angle Difference (Degree)","titleFontSize":13.5,"titlePadding":3}},
"color":{"datum":"θ21","type":"nominal","scale":{"domain":["θ21","θ31","θ32"],"range":["#2a8cd2","#000000","#ff0000"]},"legend":{"orient":"none","legendX":11,"legendY":7,"direction":"horizontal","title":null,"symbolType":"stroke","symbolSize":441,"symbolStrokeWidth":1.5,"labelFontSize":15,"labelOffset":3,"columnPadding":11,"padding":3,"strokeColor":"#000","fillColor":"#fff","labelColor":"#000"}}
}},
{"data":{"name":"p2b"},"mark":{"type":"line","clip":true,"strokeWidth":2.4},
"encoding":{
"x":{"field":"t","type":"quantitative","scale":{"domain":[0,24],"nice":false,"zero":false},"axis":null},
"y":{"field":"v","type":"quantitative","scale":{"domain":[-17.7,22],"nice":false,"zero":false},"axis":null},
"color":{"datum":"θ31","type":"nominal"}}},
{"data":{"name":"p2c"},"mark":{"type":"line","clip":true,"strokeWidth":2.2},
"encoding":{
"x":{"field":"t","type":"quantitative","scale":{"domain":[0,24],"nice":false,"zero":false},"axis":{"orient":"top","values":[4,8,12,16,20],"labels":false,"tickSize":-5,"title":null}},
"y":{"field":"v","type":"quantitative","scale":{"domain":[-17.7,22],"nice":false,"zero":false},"axis":{"orient":"right","values":[-10,0,10,20],"labels":false,"tickSize":-5,"title":null}},
"color":{"datum":"θ32","type":"nominal"}}}
],
"resolve":{"axis":{"x":"independent","y":"independent"}}
},
{"width":607,"height":60,"data":{"name":"sp"},"mark":{"type":"text"},"encoding":{"text":{"value":""}},"view":{"stroke":null}},
{
"width":614,"height":155,
"title":{"text":"(b)","frame":"group","anchor":"start","dx":-44,"offset":5,"fontSize":17},
"layer":[
{"data":{"name":"p3q"},"mark":{"type":"line","clip":true,"strokeWidth":1,"color":"#000"},
"encoding":{
"x":{"field":"t","type":"quantitative","scale":{"domain":[0,24],"nice":false,"zero":false},"axis":null},
"y":{"field":"v","type":"quantitative","scale":{"domain":[0,0.5],"nice":false,"zero":false},"axis":{"values":[0.1,0.2,0.3,0.4,0.5],"format":"~g","labelFontSize":10.5,"tickSize":4,"labelPadding":1,"title":"Q","titleFontSize":25,"titlePadding":4}}}},
{"data":{"name":"p3l"},"mark":{"type":"line","clip":true,"strokeWidth":1,"color":"#1a1af0"},
"encoding":{
"x":{"field":"t","type":"quantitative","scale":{"domain":[0,24],"nice":false,"zero":false},"axis":null},
"y":{"field":"v","type":"quantitative","scale":{"domain":[0,0.5],"nice":false,"zero":false},"axis":{"orient":"right","values":[0.1,0.2,0.3,0.4],"labels":false,"tickSize":-5,"title":null}}}},
{"data":{"name":"a3"},"mark":{"type":"text","align":"left","baseline":"middle","fontSize":19,"color":"#111"},
"encoding":{
"x":{"field":"t","type":"quantitative","scale":{"domain":[0,24],"nice":false,"zero":false},"axis":null},
"y":{"field":"v","type":"quantitative","scale":{"domain":[0,0.5],"nice":false,"zero":false},"axis":null},
"text":{"field":"s","type":"nominal"}}},
{"data":{"name":"r3"},"mark":{"type":"rule","strokeWidth":1,"color":"#1a1af0"},
"encoding":{
"x":{"field":"t","type":"quantitative","scale":{"domain":[0,24],"nice":false,"zero":false},"axis":null},
"y":{"field":"v","type":"quantitative","scale":{"domain":[0,0.5],"nice":false,"zero":false},"axis":null},
"x2":{"field":"t2"},"y2":{"field":"v2"}}},
{"data":{"name":"r3"},"mark":{"type":"point","shape":"triangle-right","filled":true,"color":"#1a1af0","opacity":1,"size":30,"angle":103},
"encoding":{
"x":{"field":"t2","type":"quantitative","scale":{"domain":[0,24],"nice":false,"zero":false},"axis":null},
"y":{"field":"v2","type":"quantitative","scale":{"domain":[0,0.5],"nice":false,"zero":false},"axis":null}}},
{"data":{"name":"e3"},"transform":[{"filter":"datum.k == 1"}],"mark":{"type":"point","shape":"M-0.272,0A0.272,1,0,1,0,0.272,0A0.272,1,0,1,0,-0.272,0Z","filled":false,"color":"#000","opacity":1,"strokeWidth":1,"size":8464},
"encoding":{
"x":{"field":"t","type":"quantitative","scale":{"domain":[0,24],"nice":false,"zero":false},"axis":null},
"y":{"field":"v","type":"quantitative","scale":{"domain":[0,0.5],"nice":false,"zero":false},"axis":null}}},
{"data":{"name":"e3"},"transform":[{"filter":"datum.k == 2"}],"mark":{"type":"point","shape":"M-0.473,0A0.473,1,0,1,0,0.473,0A0.473,1,0,1,0,-0.473,0Z","filled":false,"color":"#000","opacity":1,"strokeWidth":1,"size":3025},
"encoding":{
"x":{"field":"t","type":"quantitative","scale":{"domain":[0,24],"nice":false,"zero":false},"axis":null},
"y":{"field":"v","type":"quantitative","scale":{"domain":[0,0.5],"nice":false,"zero":false},"axis":null}}}
],
"resolve":{"axis":{"x":"independent","y":"independent"}}
},
{
"width":614,"height":159,
"layer":[
{"data":{"name":"p4q"},"mark":{"type":"line","clip":true,"strokeWidth":1,"color":"#000"},
"encoding":{
"x":{"field":"t","type":"quantitative","scale":{"domain":[0,24],"nice":false,"zero":false},"axis":{"values":[4,8,12,16,21.2472,23.17],"labelExpr":"datum.value == 21.2472 ? '21:14:50' : datum.value == 23.17 ? '23:10:12' : (datum.value < 10 ? '0' : '') + datum.value + ':00:00'","ticks":false,"tickSize":0,"labelFontSize":11,"labelPadding":2,"title":"Time (hour)","titleFontSize":19,"titlePadding":1}},
"y":{"field":"v","type":"quantitative","scale":{"domain":[0,1.7],"nice":false,"zero":false},"axis":{"values":[0.5,1,1.5],"format":"~g","labelFontSize":10.5,"tickSize":4,"labelPadding":1,"title":"Q","titleFontSize":25,"titlePadding":4}}}},
{"data":{"name":"p4l"},"mark":{"type":"line","clip":true,"strokeWidth":1,"color":"#ff0000"},
"encoding":{
"x":{"field":"t","type":"quantitative","scale":{"domain":[0,24],"nice":false,"zero":false},"axis":{"orient":"top","values":[4,8,12,16,21.2472,23.17],"labels":false,"tickSize":-5,"title":null}},
"y":{"field":"v","type":"quantitative","scale":{"domain":[0,1.7],"nice":false,"zero":false},"axis":{"orient":"right","values":[0.5,1,1.5],"labels":false,"tickSize":-5,"title":null}}}},
{"data":{"name":"a4"},"mark":{"type":"text","align":"left","baseline":"middle","fontSize":19,"color":"#111"},
"encoding":{
"x":{"field":"t","type":"quantitative","scale":{"domain":[0,24],"nice":false,"zero":false},"axis":null},
"y":{"field":"v","type":"quantitative","scale":{"domain":[0,1.7],"nice":false,"zero":false},"axis":null},
"text":{"field":"s","type":"nominal"}}},
{"data":{"name":"r4"},"mark":{"type":"rule","strokeWidth":1,"color":"#ff0000"},
"encoding":{
"x":{"field":"t","type":"quantitative","scale":{"domain":[0,24],"nice":false,"zero":false},"axis":null},
"y":{"field":"v","type":"quantitative","scale":{"domain":[0,1.7],"nice":false,"zero":false},"axis":null},
"x2":{"field":"t2"},"y2":{"field":"v2"}}},
{"data":{"name":"r4"},"mark":{"type":"point","shape":"triangle-right","filled":true,"color":"#ff0000","opacity":1,"size":30,"angle":114},
"encoding":{
"x":{"field":"t2","type":"quantitative","scale":{"domain":[0,24],"nice":false,"zero":false},"axis":null},
"y":{"field":"v2","type":"quantitative","scale":{"domain":[0,1.7],"nice":false,"zero":false},"axis":null}}}
],
"resolve":{"axis":{"x":"independent","y":"independent"}}
}
],
"spacing":10,
"bounds":"flush",
"resolve":{"scale":{"color":"independent"},"legend":{"color":"independent"}}
}
